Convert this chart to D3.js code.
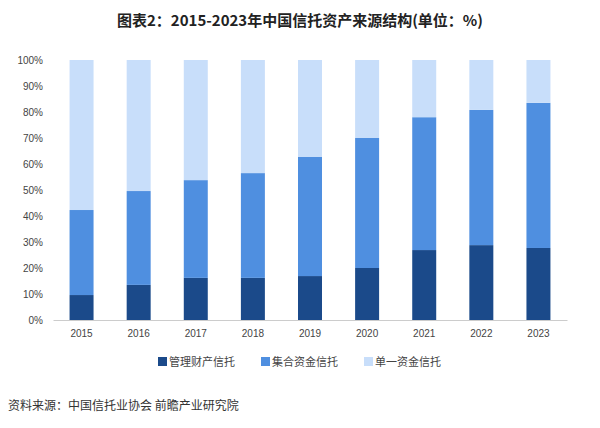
<!DOCTYPE html>
<html><head><meta charset="utf-8">
<script src="https://cdn.jsdelivr.net/npm/d3@7"></script>
<style>body{margin:0;background:#fff;font-family:"Noto Sans CJK SC","Noto Sans",sans-serif}</style>
</head><body><div id="chart"></div>
<script>
const years = ["2015","2016","2017","2018","2019","2020","2021","2022","2023"];
const managed = [9.6, 13.5, 16.2, 16.2, 16.9, 20.0, 26.9, 28.8, 27.7];
const collective = [32.7, 36.1, 37.6, 40.3, 45.8, 50.0, 51.1, 52.0, 55.8];
const single = [57.7, 50.4, 46.2, 43.5, 37.3, 30.0, 22.0, 19.2, 16.5];
const seriesNames = ["管理财产信托", "集合资金信托", "单一资金信托"];
const colors = ["#1b4a8a", "#4f8fe0", "#c8defa"];
const yTicks = [0,10,20,30,40,50,60,70,80,90,100];

const W = 600, H = 428;
const m = {left: 53, right: 33, top: 60, bottom: 108};
const svg = d3.select("#chart").append("svg").attr("width", W).attr("height", H);

svg.append("text").attr("x", W/2).attr("y", 26).attr("text-anchor","middle")
  .attr("font-size", 15).attr("font-weight","bold").attr("fill","#222")
  .text("图表2：2015-2023年中国信托资产来源结构(单位：%)");

const x = d3.scaleBand().domain(years).range([m.left, W - m.right]).paddingInner(0.58).paddingOuter(0.29);
const y = d3.scaleLinear().domain([0,100]).range([H - m.bottom, m.top]);

const rows = years.map((yr,i) => ({year: yr, a: managed[i], b: collective[i], c: single[i]}));
const stacked = d3.stack().keys(["a","b","c"])(rows);

svg.append("g").selectAll("g").data(stacked).join("g").attr("fill",(d,i)=>colors[i])
  .selectAll("rect").data(d=>d).join("rect")
  .attr("x", d=>x(d.data.year)).attr("width", x.bandwidth())
  .attr("y", d=>y(d[1])).attr("height", d=>y(d[0])-y(d[1]));

const yAxis = svg.append("g").attr("transform",`translate(${m.left},0)`)
  .call(d3.axisLeft(y).tickValues(yTicks).tickFormat(d=>d+"%").tickSize(0).tickPadding(10));
yAxis.select(".domain").remove();
yAxis.selectAll("text").attr("font-size", 10).attr("fill","#444");

const xAxis = svg.append("g").attr("transform",`translate(0,${H - m.bottom})`)
  .call(d3.axisBottom(x).tickSize(0).tickPadding(10));
xAxis.select(".domain").attr("stroke","#ccc");
xAxis.selectAll("text").attr("font-size", 10).attr("fill","#444");

const lg = svg.append("g").attr("transform","translate(158,362)");
const offs = [0, 103, 206];
seriesNames.forEach((n,i)=>{
  const g = lg.append("g").attr("transform",`translate(${offs[i]},0)`);
  g.append("rect").attr("width",9).attr("height",9).attr("y",-5).attr("fill",colors[i]);
  g.append("text").attr("x",11).attr("y",4).attr("font-size",11).attr("fill","#444").text(n);
});

svg.append("text").attr("x", 8).attr("y", 410).attr("font-size", 12).attr("fill","#333")
  .text("资料来源：中国信托业协会 前瞻产业研究院");
</script></body></html>
